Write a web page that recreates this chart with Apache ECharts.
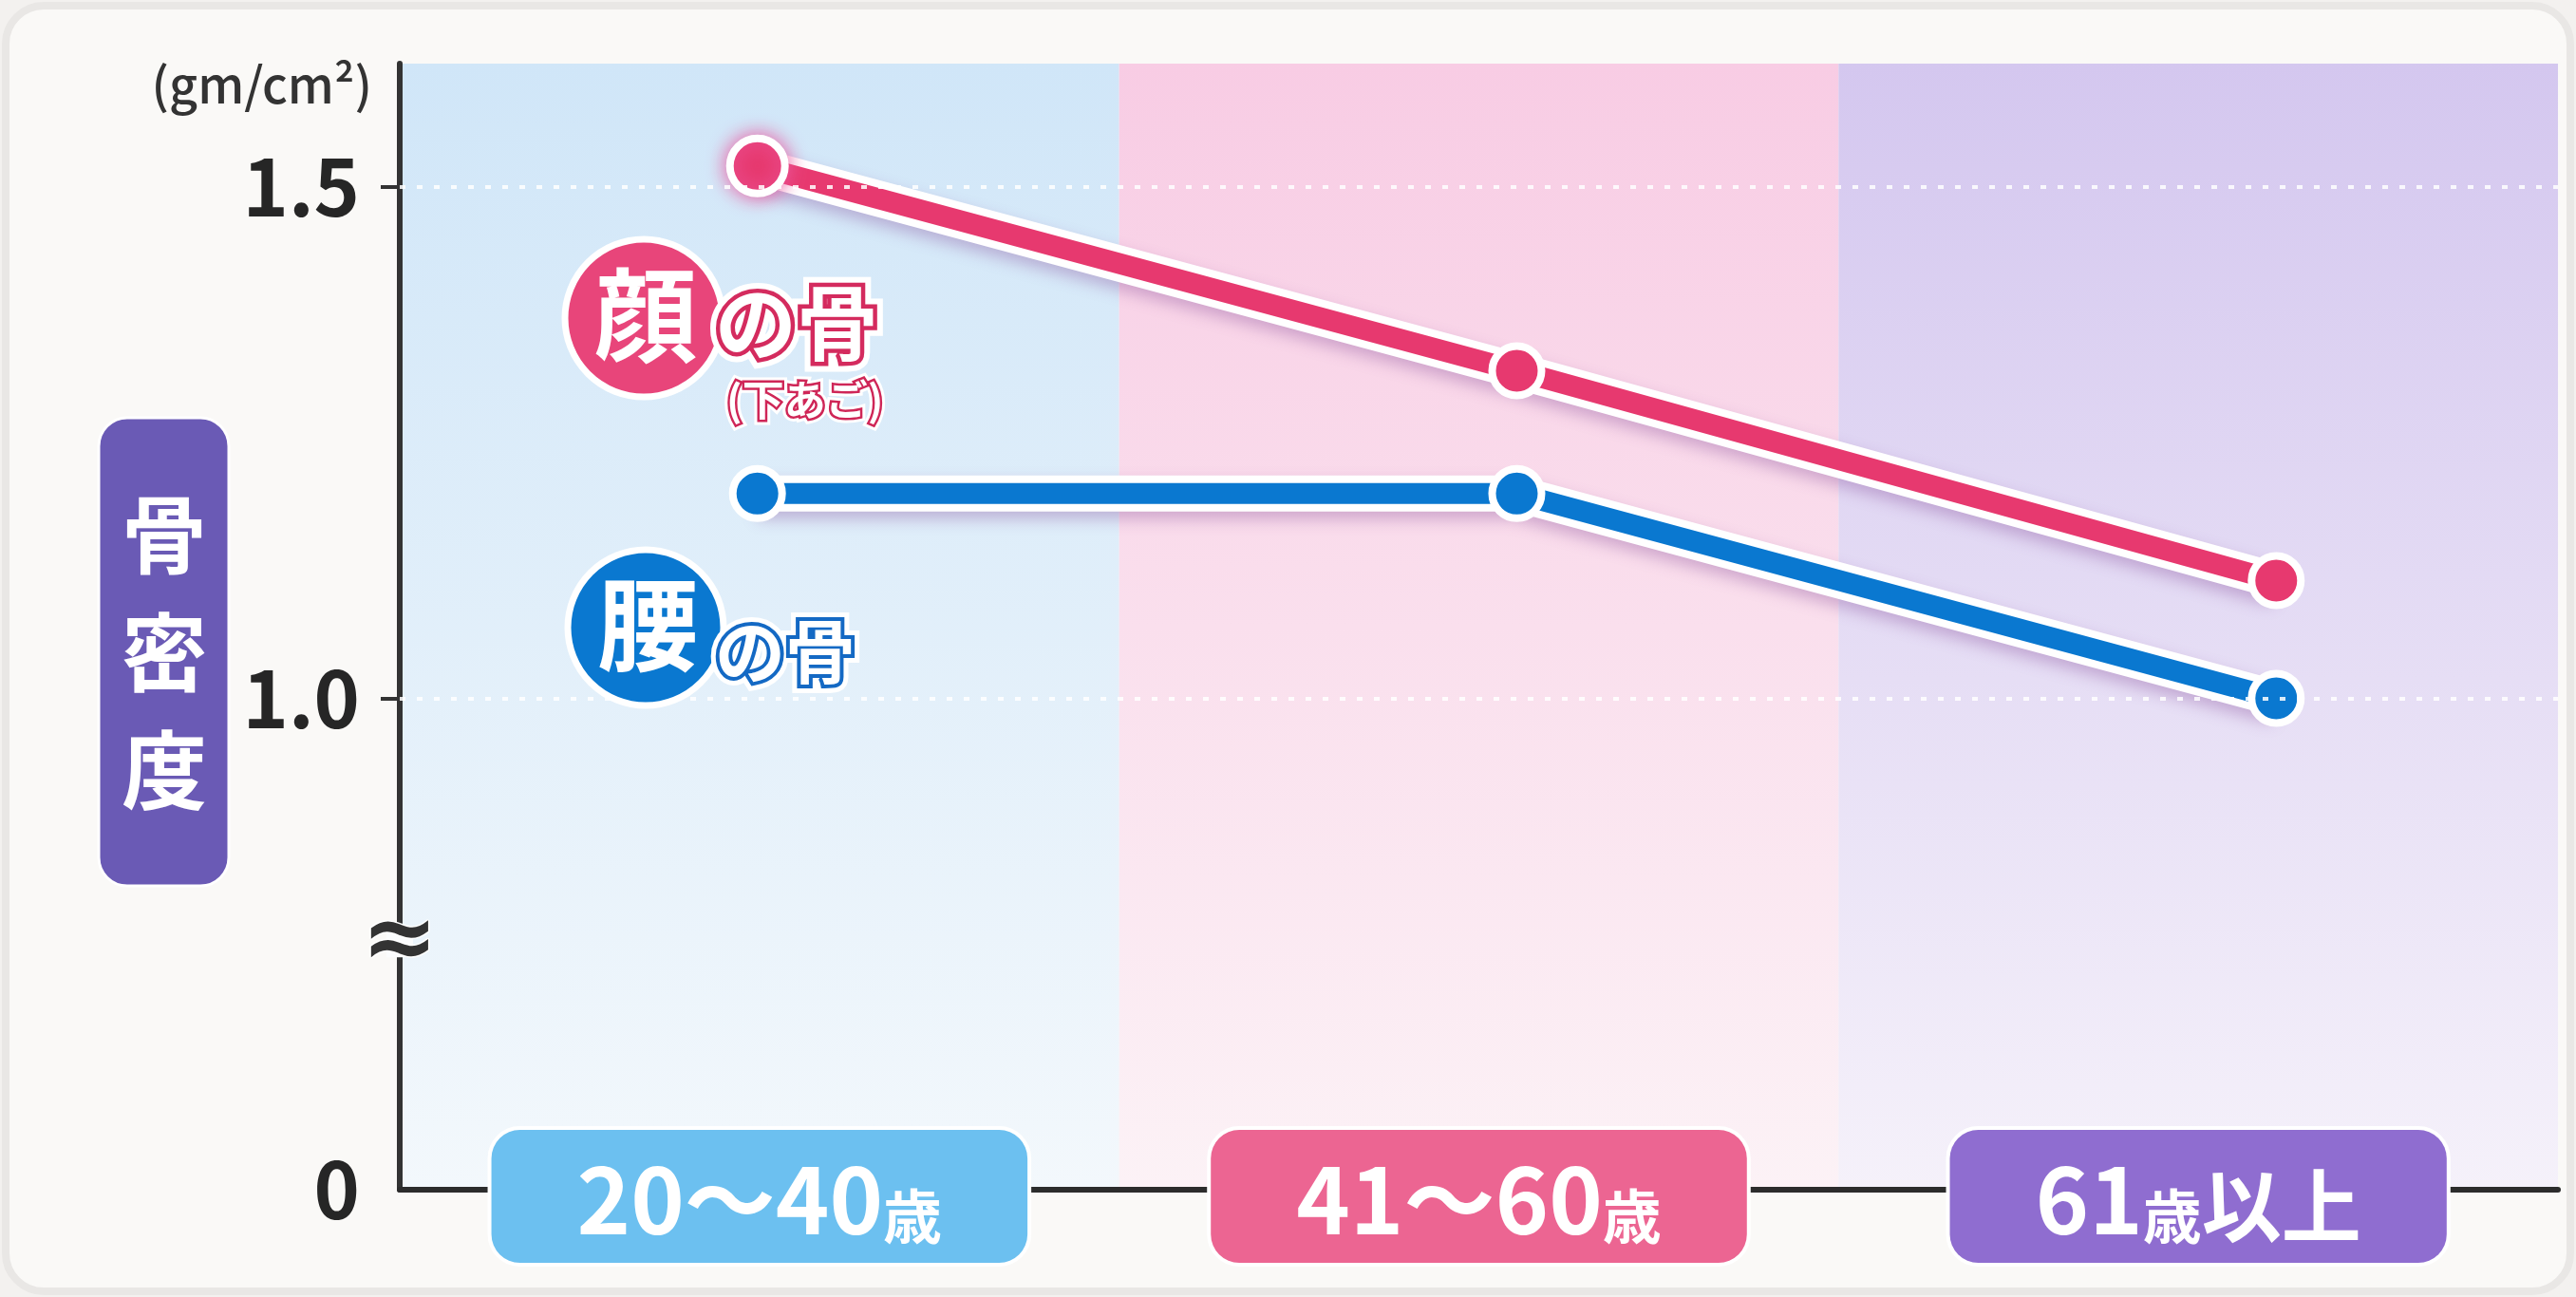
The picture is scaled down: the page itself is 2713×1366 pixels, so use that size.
<!DOCTYPE html>
<html lang="ja">
<head>
<meta charset="utf-8">
<title>骨密度の推移</title>
<script src="https://cdn.jsdelivr.net/npm/echarts@6.0.0/dist/echarts.min.js"></script>
<style>
  html, body { margin: 0; padding: 0; background: #f3f1ef; }
  #chart { width: 2713px; height: 1366px; }
</style>
</head>
<body>
<div id="chart"></div>
<script>
// 年代区分
const AGE_GROUPS = ['20〜40歳', '41〜60歳', '61歳以上'];
// 骨密度 (gm/cm²)
const FACE_BONE = [1.52, 1.32, 1.115];  // 顔の骨（下あご）
const WAIST_BONE = [1.2, 1.2, 1.0];     // 腰の骨
// 縦軸の目盛り：下端は省略線をはさんで 0 とする
const Y_TICK_VALUES = [0.52, 1.0, 1.5];
const Y_TICK_LABELS = ['0', '1.0', '1.5'];
const Y_MAX = 1.62;

// 見た目の設定
const FONT = '"Noto Sans CJK JP", "Noto Sans", sans-serif';
const RED = '#e7396f';
const BLUE = '#0a78d0';
const BOX_COLORS = ['#6cc0f0', '#ec6592', '#8f6dd0'];
const BAND_COLORS = [
  ['#d0e6f8', '#f3f8fc'],
  ['#f8cce4', '#fcf2f6'],
  ['#d4c7ef', '#f5f1fa']
];
// 折れ線の横位置（年代帯の中で少しずらして置く）
const X_MIN = -0.471;
const X_MAX = 2.371;

const chart = echarts.init(document.getElementById('chart'), null, { renderer: 'canvas' });

const tickLabelOf = v => {
  const i = Y_TICK_VALUES.findIndex(t => Math.abs(t - v) < 1e-9);
  return i >= 0 ? Y_TICK_LABELS[i] : '';
};

const bandGradients = BAND_COLORS.map(([top, bottom]) => ({
  type: 'linear', x: 0, y: 0, x2: 0, y2: 1,
  colorStops: [{ offset: 0, color: top }, { offset: 1, color: bottom }]
}));

function ageLabel(text) {
  return text.match(/[0-9〜]+|歳|[^0-9〜歳]+/g).map(part => {
    if (/[0-9〜]/.test(part)) return '{n|' + part + '}';
    if (part === '歳') return '{s|' + part + '}';
    return '{k|' + part + '}';
  }).join('');
}

function toPoints(values) {
  return values.map((v, i) => [i, v]);
}

// 白いふち取りと影（線の下敷き）
function underlay(values, extra) {
  return Object.assign({
    type: 'line',
    xAxisIndex: 1,
    yAxisIndex: 0,
    data: toPoints(values),
    symbol: 'none',
    silent: true,
    z: 2,
    lineStyle: {
      color: '#ffffff', width: 38,
      shadowColor: 'rgba(130, 70, 150, 0.35)', shadowBlur: 16, shadowOffsetY: 8
    },
    emphasis: { disabled: true }
  }, extra || {});
}

function mainLine(name, values, color, firstGlow) {
  return {
    type: 'line',
    name: name,
    xAxisIndex: 1,
    yAxisIndex: 0,
    z: 3,
    data: toPoints(values).map((p, i) => {
      if (i === 0 && firstGlow) {
        return {
          value: p, symbolSize: 58,
          itemStyle: { shadowColor: 'rgba(235, 90, 160, 0.95)', shadowBlur: 20 }
        };
      }
      return { value: p };
    }),
    symbol: 'circle',
    symbolSize: 52,
    showSymbol: true,
    lineStyle: { color: color, width: 22, cap: 'round' },
    itemStyle: { color: color, borderColor: '#ffffff', borderWidth: 8 },
    emphasis: { disabled: true }
  };
}

const option = {
  animation: false,
  backgroundColor: 'transparent',
  grid: {
    left: 421, right: 19, top: 67, bottom: 113,
    outerBoundsMode: 'none'
  },
  xAxis: [
    {
      type: 'category',
      data: AGE_GROUPS.map((name, i) => ({
        value: name,
        textStyle: { backgroundColor: BOX_COLORS[i] }
      })),
      boundaryGap: true,
      axisLine: { show: true, onZero: false, lineStyle: { color: '#2c2c2c', width: 6 } },
      axisTick: { show: false },
      splitLine: { show: false },
      splitArea: { show: true, areaStyle: { color: bandGradients } },
      axisLabel: {
        interval: 0,
        margin: -63,
        color: '#ffffff',
        padding: [18, 90, 18, 90],
        borderRadius: 30,
        borderColor: '#ffffff',
        borderWidth: 4,
        formatter: ageLabel,
        rich: {
          n: { fontFamily: FONT, fontWeight: 'bold', fontSize: 96, color: '#ffffff', lineHeight: 104, verticalAlign: 'bottom' },
          s: { fontFamily: FONT, fontWeight: 'bold', fontSize: 62, color: '#ffffff', lineHeight: 104, verticalAlign: 'bottom' },
          k: { fontFamily: FONT, fontWeight: 'bold', fontSize: 84, color: '#ffffff', lineHeight: 104, verticalAlign: 'bottom' }
        }
      }
    },
    {
      type: 'value',
      show: false,
      min: X_MIN,
      max: X_MAX,
      axisLine: { onZero: false },
      splitLine: { show: false }
    }
  ],
  yAxis: [
    {
      type: 'value',
      min: Y_TICK_VALUES[0],
      max: Y_MAX,
      axisLine: { show: true, onZero: false, lineStyle: { color: '#333333', width: 6 } },
      axisTick: {
        show: true, inside: false, length: 20,
        customValues: Y_TICK_VALUES.slice(1),
        lineStyle: { color: '#333333', width: 4 }
      },
      axisLabel: {
        customValues: Y_TICK_VALUES,
        formatter: tickLabelOf,
        margin: 42,
        fontFamily: FONT,
        fontWeight: 'bold',
        fontSize: 82,
        color: '#262626'
      },
      splitLine: { show: false }
    }
  ],
  series: [
    underlay(WAIST_BONE, {
      markLine: {
        silent: true,
        symbol: ['none', 'none'],
        label: { show: false },
        emphasis: { disabled: true },
        lineStyle: { color: 'rgba(255,255,255,0.85)', width: 4, type: [6, 12] },
        data: Y_TICK_VALUES.slice(1).map(v => ({ yAxis: v }))
      }
    }),
    mainLine('腰の骨', WAIST_BONE, BLUE, false),
    underlay(FACE_BONE),
    mainLine('顔の骨', FACE_BONE, RED, true)
  ]
};

chart.setOption(option);

// 縁取り文字（白いにじみ → 色のふち → 白い文字）
function outlinedText(text, x, y, size, edge) {
  const font = 'bold ' + size + 'px ' + FONT;
  const base = { text: text, x: x, y: y, font: font, align: 'left', verticalAlign: 'middle' };
  return [
    { type: 'text', z: 50, silent: true, style: Object.assign({}, base, { fill: '#ffffff', stroke: '#ffffff', lineWidth: Math.round(size * 0.24) }) },
    { type: 'text', z: 51, silent: true, style: Object.assign({}, base, { fill: edge, stroke: edge, lineWidth: Math.round(size * 0.11) }) },
    { type: 'text', z: 52, silent: true, style: Object.assign({}, base, { fill: '#ffffff' }) }
  ];
}

function badge(cx, cy, r, color, char, size) {
  return [
    { type: 'circle', z: 50, silent: true, shape: { cx: cx, cy: cy, r: r }, style: { fill: color, stroke: '#ffffff', lineWidth: 7 } },
    { type: 'text', z: 52, silent: true, style: { text: char, x: cx + 2, y: cy - 3, font: 'bold ' + size + 'px ' + FONT, fill: '#ffffff', align: 'center', verticalAlign: 'middle' } }
  ];
}

const axisX = chart.convertToPixel({ xAxisIndex: 1 }, X_MIN);
const floorY = chart.convertToPixel({ yAxisIndex: 0 }, Y_TICK_VALUES[0]);
const oneY = chart.convertToPixel({ yAxisIndex: 0 }, Y_TICK_VALUES[1]);
const breakY = (floorY + oneY) / 2;

const graphics = [
  // カード
  { type: 'rect', z: -20, silent: true, shape: { x: 6, y: 6, width: 2701, height: 1354, r: 40 }, style: { fill: '#faf9f7', stroke: '#e9e7e5', lineWidth: 8 } },
  // 縦軸の見出し
  { type: 'rect', z: 40, silent: true, shape: { x: 104, y: 440, width: 137, height: 493, r: 30 }, style: { fill: '#6a5ab5', stroke: '#ffffff', lineWidth: 3 } },
  { type: 'text', z: 41, silent: true, style: { text: '骨\n密\n度', x: 173, y: 687, font: 'bold 90px ' + FONT, lineHeight: 124, fill: '#ffffff', align: 'center', verticalAlign: 'middle' } },
  // 単位
  { type: 'text', z: 41, silent: true, style: { text: '(gm/cm²)', x: 392, y: 89, font: '500 52px ' + FONT, fill: '#333333', align: 'right', verticalAlign: 'middle' } },
  // 省略線
  { type: 'rect', z: 60, silent: true, shape: { x: axisX - 14, y: breakY - 14, width: 28, height: 28 }, style: { fill: '#fbfcfd' } },
  { type: 'text', z: 61, silent: true, style: { text: '≈', x: axisX, y: breakY, font: 'bold 96px "DejaVu Sans", sans-serif', fill: '#333333', stroke: '#ffffff', lineWidth: 3, align: 'center', verticalAlign: 'middle' } }
]
  .concat(badge(678, 335, 83, '#e8457a', '顔', 108))
  .concat(outlinedText('の骨', 753, 340, 86, '#d42b5e'))
  .concat(outlinedText('(下あご)', 765, 421, 44, '#cf2657'))
  .concat(badge(680, 661, 82, BLUE, '腰', 106))
  .concat(outlinedText('の骨', 753, 686, 74, '#1469c4'));

chart.setOption({ graphic: graphics });
</script>
</body>
</html>
